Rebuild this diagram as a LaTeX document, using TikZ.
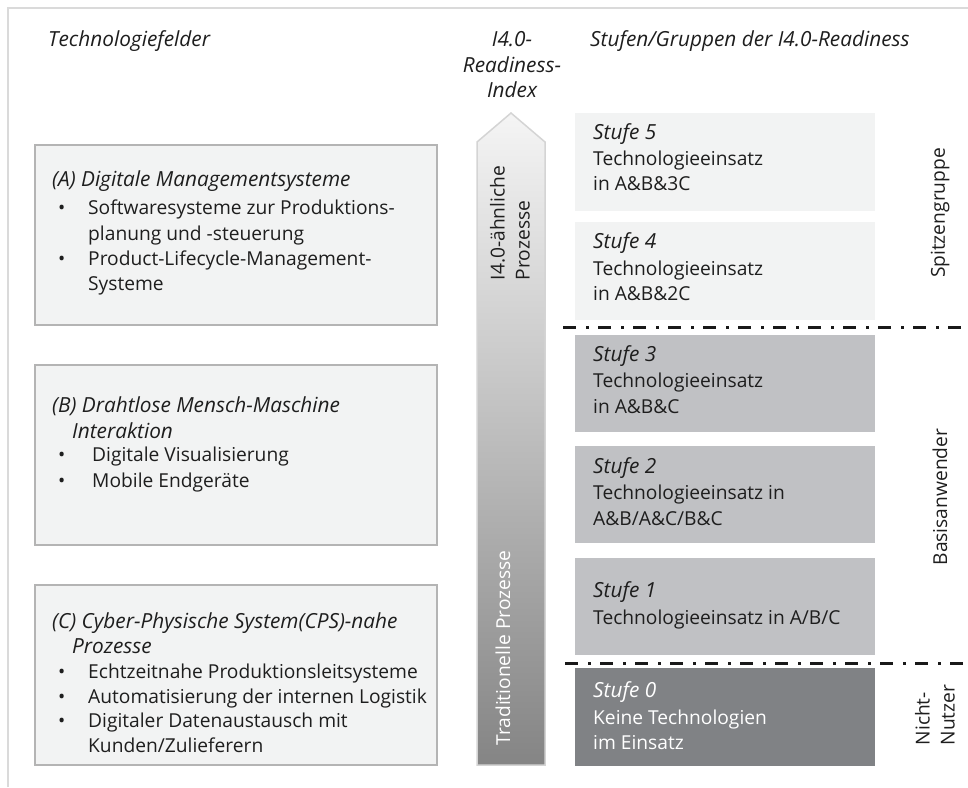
\documentclass[tikz,border=0pt]{standalone}
\usepackage{fontspec}
\setmainfont{Open Sans}
\usetikzlibrary{shadings}

\definecolor{framegray}{RGB}{218,218,218}
\definecolor{lightfill}{RGB}{242,243,243}
\definecolor{boxline}{RGB}{180,180,180}
\definecolor{midfill}{RGB}{192,193,196}
\definecolor{darkfill}{RGB}{128,130,133}
\definecolor{arrowline}{RGB}{212,212,212}
\definecolor{inktext}{RGB}{30,30,30}

\newcommand{\bodyfont}{\fontsize{19.2}{25}\selectfont}
\newcommand{\headfont}{\fontsize{20.8}{25}\selectfont\itshape}

\begin{document}
\begin{tikzpicture}[x=1pt,y=-1pt,
  line/.style={anchor=base west, inner sep=0pt, font=\bodyfont, text=inktext},
  hdr/.style={line, font=\headfont},
  fieldbox/.style={draw=boxline, line width=1.5pt, fill=lightfill},
  stagebox/.style={anchor=north west, inner sep=0pt, minimum width=300pt},
  groupsep/.style={draw=black!90, line width=3pt, dash pattern=on 13pt off 10pt on 3pt off 9pt},
  grouplabel/.style={rotate=90, inner sep=0pt, font=\bodyfont, text=inktext, align=left},
  bul/.style={line}]
\useasboundingbox (0,0) rectangle (968,787);

% outer frame (top and left edges only)
\draw[framegray, line width=2pt] (8,787) -- (8,8) -- (968,8);

% column headers
\node[hdr] (hfield) at (48,46) {Technologiefelder};
\node[hdr, anchor=base] (hidx1) at (512,46) {I4.0-};
\node[hdr, anchor=base] (hidx2) at (512,72) {Readiness-};
\node[hdr, anchor=base] (hidx3) at (512,97) {Index};
\node[hdr] (hstage) at (590,46) {Stufen/Gruppen der I4.0-Readiness};

% technology fields
\draw[fieldbox] (35,145) rectangle (437,325);
\draw[fieldbox] (35,365) rectangle (437,545);
\draw[fieldbox] (35,585) rectangle (437,765);

\node[hdr] (a0) at (52,186) {(A) Digitale Managementsysteme};
\node[bul] (ab1) at (58,214) {\textbullet};
\node[line] (a1) at (88,214) {Softwaresysteme zur Produktions-};
\node[line] (a2) at (88,240) {planung und -steuerung};
\node[bul] (ab2) at (58,265) {\textbullet};
\node[line] (a3) at (88,265) {Product-Lifecycle-Management-};
\node[line] (a4) at (88,290) {Systeme};

\node[hdr] (b0) at (52,412) {(B) Drahtlose Mensch-Maschine};
\node[hdr] (b1) at (72,438) {Interaktion};
\node[bul] (bb1) at (58,461) {\textbullet};
\node[line] (b2) at (92,461) {Digitale Visualisierung};
\node[bul] (bb2) at (58,487) {\textbullet};
\node[line] (b3) at (92,487) {Mobile Endgeräte};

\node[hdr] (c0) at (52,628) {(C) Cyber-Physische System(CPS)-nahe};
\node[hdr] (c1) at (72,653) {Prozesse};
\node[bul] (cb1) at (58,678) {\textbullet};
\node[line] (c2) at (88,678) {Echtzeitnahe Produktionsleitsysteme};
\node[bul] (cb2) at (58,703) {\textbullet};
\node[line] (c3) at (88,703) {Automatisierung der internen Logistik};
\node[bul] (cb3) at (58,727) {\textbullet};
\node[line] (c4) at (88,727) {Digitaler Datenaustausch mit};
\node[line] (c5) at (88,752) {Kunden/Zulieferern};

% readiness index arrow
\path[draw=arrowline, line width=1.5pt, top color=white!96!black, bottom color=black!48]
  (477,765) -- (477,142) -- (511,113) -- (545,142) -- (545,765) -- cycle;
\node[grouplabel, anchor=center] (upper) at (510,223) {I4.0-ähnliche\\Prozesse};
\node[grouplabel, anchor=center, text=white] (lower) at (503,648) {Traditionelle Prozesse};

% readiness stages
\node[stagebox, fill=lightfill, minimum height=98pt] (s5) at (575,113) {};
\node[stagebox, fill=lightfill, minimum height=98pt] (s4) at (575,222) {};
\node[stagebox, fill=midfill, minimum height=97pt] (s3) at (575,335) {};
\node[stagebox, fill=midfill, minimum height=97pt] (s2) at (575,446) {};
\node[stagebox, fill=midfill, minimum height=97pt] (s1) at (575,558) {};
\node[stagebox, fill=darkfill, minimum height=98pt] (s0) at (575,668) {};

\node[hdr] (t5a) at (593,139) {Stufe 5};
\node[line] (t5b) at (593,165) {Technologieeinsatz};
\node[line] (t5c) at (593,190) {in A\&B\&3C};

\node[hdr] (t4a) at (593,248) {Stufe 4};
\node[line] (t4b) at (593,275) {Technologieeinsatz};
\node[line] (t4c) at (593,300) {in A\&B\&2C};

\node[hdr] (t3a) at (593,361) {Stufe 3};
\node[line] (t3b) at (593,387) {Technologieeinsatz};
\node[line] (t3c) at (593,413) {in A\&B\&C};

\node[hdr] (t2a) at (593,473) {Stufe 2};
\node[line] (t2b) at (593,499) {Technologieeinsatz in};
\node[line] (t2c) at (593,525) {A\&B/A\&C/B\&C};

\node[hdr] (t1a) at (593,597) {Stufe 1};
\node[line] (t1b) at (593,624) {Technologieeinsatz in A/B/C};

\node[hdr, text=white] (t0a) at (593,697) {Stufe 0};
\node[line, text=white] (t0b) at (593,724) {Keine Technologien};
\node[line, text=white] (t0c) at (593,749) {im Einsatz};

% group separators
\coordinate (sepAl) at (563,327);
\coordinate (sepAr) at (968,327);
\coordinate (sepBl) at (565,663);
\coordinate (sepBr) at (968,663);
\draw[groupsep] (sepAl) -- (sepAr);
\draw[groupsep] (sepBl) -- (sepBr);

% group labels
\node[grouplabel] (g1) at (940,213) {Spitzengruppe};
\node[grouplabel] (g2) at (940,497) {Basisanwender};
\node[grouplabel] (g3) at (935,715) {Nicht-\\Nutzer};
\end{tikzpicture}
\end{document}
